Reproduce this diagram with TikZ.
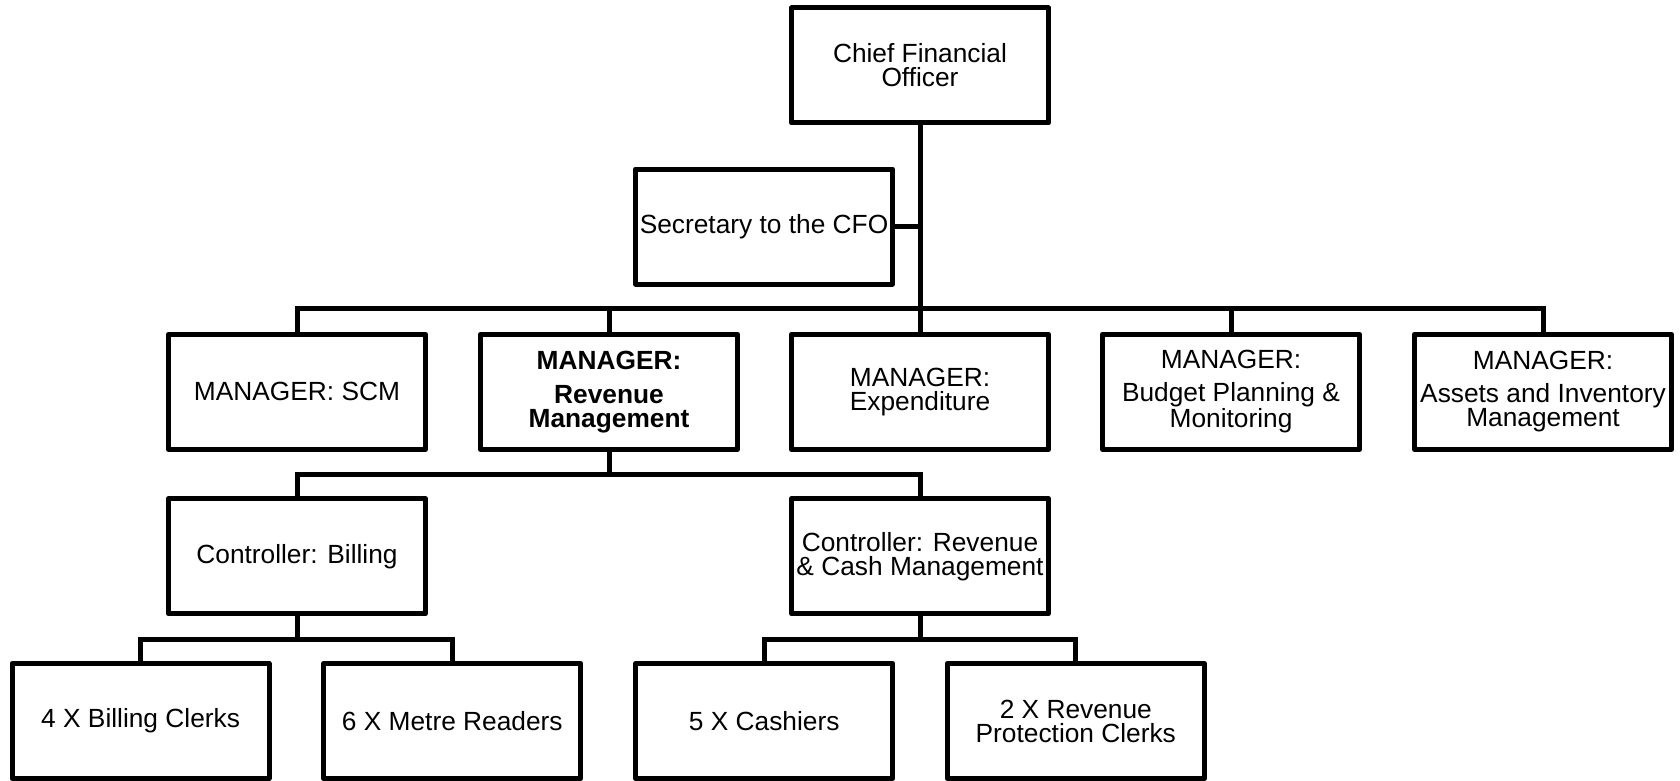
\documentclass[tikz,border=0pt]{standalone}
\usepackage{fontspec}
\setmainfont{Liberation Sans}
\begin{document}
\begin{tikzpicture}[x=0.5pt,y=-0.5pt,
  box/.style={draw=black,line width=2.5pt,line join=round,minimum width=128.5pt,minimum height=57.5pt,inner sep=0pt,align=center,font=\fontsize{13.15pt}{12pt}\selectfont},
  bbox/.style={box,font=\fontsize{13.15pt}{12pt}\selectfont\bfseries},
  conn/.style={draw=black,line width=2.5pt}]
\fill[white] (0,0) rectangle (1680,781);
\useasboundingbox (0,0) rectangle (1680,781);
% boxes
\node[box] (cfo) at (920,65.5) {Chief Financial\\Officer};
\node[box] (sec) at (764,226.5) {Secretary to the CFO};
\node[box] (scm) at (297,391.7) {MANAGER: SCM};
\node[bbox] (rev) at (609,391.7) {MANAGER:\\[5pt]Revenue\\Management};
\node[box] (exp) at (920,391.7) {MANAGER:\\Expenditure};
\node[box] (bud) at (1231,391.7) {MANAGER:\\[4.5pt]Budget Planning \&\\Monitoring};
\node[box] (ast) at (1543,391.7) {MANAGER:\\[4.5pt]Assets and Inventory\\Management};
\node[box] (cb) at (297,556.2) {Controller: Billing};
\node[box] (cr) at (920,556.2) {Controller: Revenue\\\& Cash Management};
\node[box] (bc) at (140.6,721) {4 X Billing Clerks};
\node[box] (mr) at (452.3,721) {6 X Metre Readers};
\node[box] (ca) at (764.2,721) {5 X Cashiers};
\node[box] (rp) at (1075.8,721) {2 X Revenue\\Protection Clerks};
% connectors
\coordinate (b1) at (920,308);
\coordinate (b2) at (609,474);
\coordinate (b3) at (297,639);
\coordinate (b4) at (920,639);
\draw[conn] (cfo.south) -- (exp.north);
\draw[conn] (sec.east) -- (sec.east -| cfo.south);
\draw[conn] (scm.north) |- (b1) -| (ast.north);
\draw[conn] (rev.north) -- (rev.north |- b1);
\draw[conn] (bud.north) -- (bud.north |- b1);
\draw[conn] (rev.south) -- (b2);
\draw[conn] (cb.north) |- (b2) -| (cr.north);
\draw[conn] (cb.south) -- (b3);
\draw[conn] (bc.north) |- (b3) -| (mr.north);
\draw[conn] (cr.south) -- (b4);
\draw[conn] (ca.north) |- (b4) -| (rp.north);
\end{tikzpicture}
\end{document}
